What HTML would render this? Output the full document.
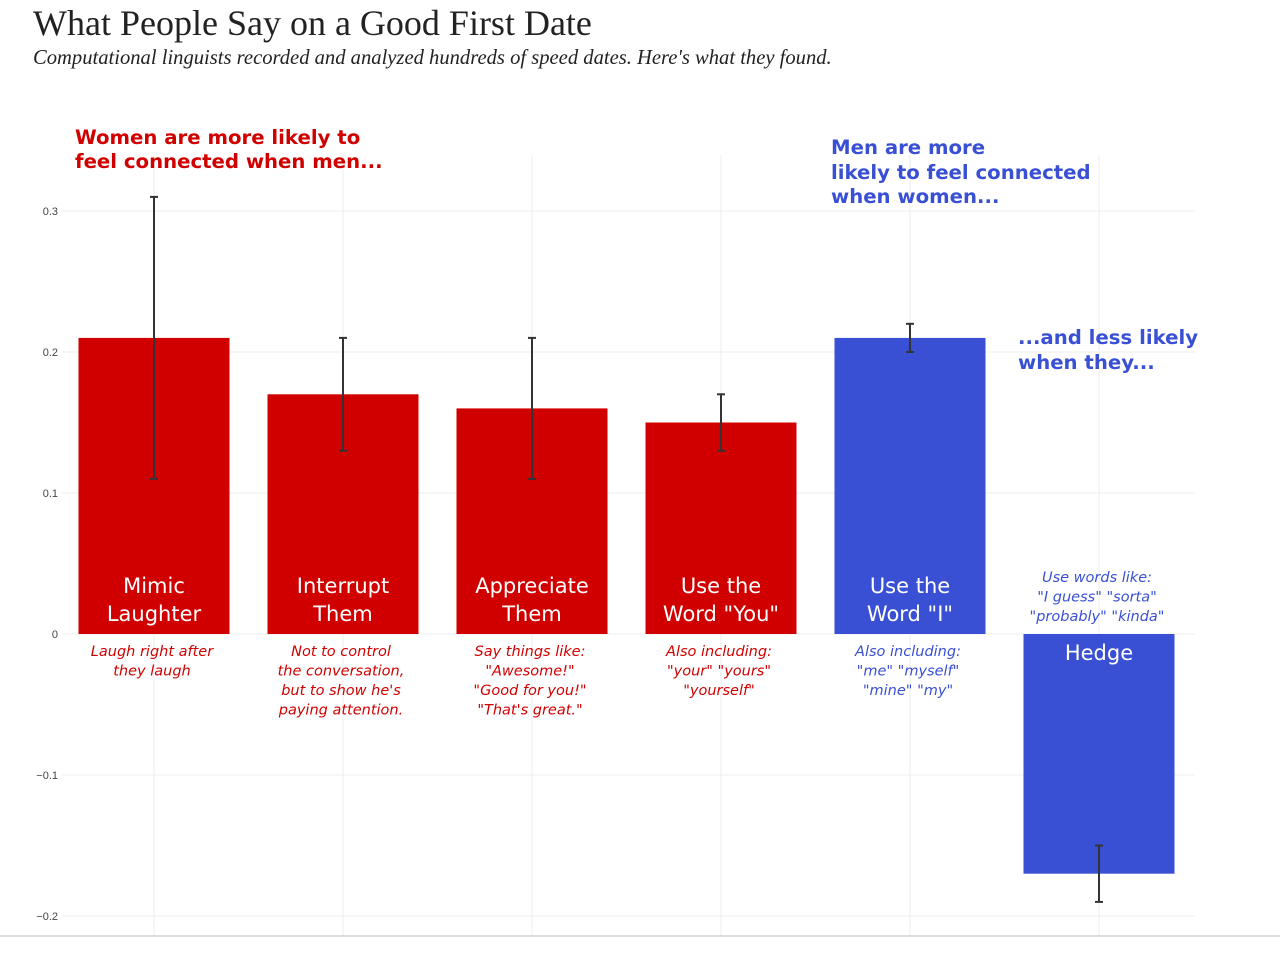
<!DOCTYPE html>
<html><head><meta charset="utf-8"><style>
body{margin:0;background:#fff;width:1280px;height:954px;overflow:hidden;font-family:"Liberation Sans",sans-serif}
.t{position:absolute;white-space:nowrap}
.an{font-family:"DejaVu Sans",sans-serif;font-weight:bold;font-size:19.7px}
</style></head><body>
<div class="t" style="left:33px;top:2px;font-family:'Liberation Serif',serif;font-size:36px;color:#222">What People Say on a Good First Date</div>
<div class="t" style="left:33px;top:47px;font-family:'Liberation Serif',serif;font-style:italic;font-size:20.6px;color:#222">Computational linguists recorded and analyzed hundreds of speed dates. Here's what they found.</div>
<svg id="c" width="1280" height="954" style="position:absolute;left:0;top:0"></svg>
<script>
const categories=["Mimic Laughter","Interrupt Them","Appreciate Them","Use the Word \"You\"","Use the Word \"I\"","Hedge"];
const values=[0.21,0.17,0.16,0.15,0.21,-0.17];
const errLow=[0.11,0.13,0.11,0.13,0.20,-0.19];
const errHigh=[0.31,0.21,0.21,0.17,0.22,-0.15];
const colors=["#d10000","#d10000","#d10000","#d10000","#3a50d4","#3a50d4"];
const yTicks=[0.3,0.2,0.1,0,-0.1,-0.2];
const yTickLabels=["0.3","0.2","0.1","0","\u22120.1","\u22120.2"];
const barLabels=[["Mimic","Laughter"],["Interrupt","Them"],["Appreciate","Them"],["Use the","Word \"You\""],["Use the","Word \"I\""],["Hedge"]];
const notes=[["Laugh right after","they laugh"],["Not to control","the conversation,","but to show he's","paying attention."],["Say things like:","\"Awesome!\"","\"Good for you!\"","\"That's great.\""],["Also including:","\"your\" \"yours\"","\"yourself\""],["Also including:","\"me\" \"myself\"","\"mine\" \"my\""],["Use words like:","\"I guess\" \"sorta\"","\"probably\" \"kinda\""]];
const NS="http://www.w3.org/2000/svg";
const svg=document.getElementById('c');
const y=v=>634-v*1410;
const x=i=>154+i*189;
const bw=151;
function el(t,a,p){const e=document.createElementNS(NS,t);for(const k in a)e.setAttribute(k,a[k]);(p||svg).appendChild(e);return e;}
yTicks.forEach((t,i)=>{
 const g=el('line',{x1:62,x2:1195,y1:y(t),y2:y(t),stroke:'#ececec','stroke-width':1});
 
 
 const l=el('text',{x:58,y:y(t)+4,'text-anchor':'end','font-size':11,fill:'#444'});
 l.textContent=yTickLabels[i];
 
 
});
categories.forEach((c,i)=>{
 const g=el('line',{x1:x(i),x2:x(i),y1:155,y2:936,stroke:'#ececec','stroke-width':1});
 
 
});
el('line',{x1:0,x2:1280,y1:936,y2:936,stroke:'#bbb','stroke-width':1});
categories.forEach((c,i)=>{
 const v=values[i];
 const r=el('rect',{x:x(i)-bw/2,y:Math.min(y(v),y(0)),width:bw,height:Math.abs(y(v)-y(0)),fill:colors[i]});
 
 
 const lines=barLabels[i];
 lines.forEach((s,j)=>{
  const ty=v>0? y(0)-41+j*28+(lines.length==1?28:0) : y(0)+26+j*28;
  const t=el('text',{x:x(i),y:ty,'text-anchor':'middle','font-size':21,'font-family':'DejaVu Sans, sans-serif',fill:'#fff'});
  t.textContent=s;
  
  
 });
 notes[i].forEach((s,j)=>{
  const ty=v>0? y(0)+22+j*19.5 : y(0)-52+j*19.5;
  const t=el('text',{x:x(i)-2,y:ty,'text-anchor':'middle','font-size':14.5,'font-family':'DejaVu Sans, sans-serif','font-style':'italic',fill:colors[i]});
  t.textContent=s;
  
  
 });
 const e=el('g',{stroke:'#333','stroke-width':2});
 
 
 el('line',{x1:x(i),x2:x(i),y1:y(errLow[i]),y2:y(errHigh[i])},e);
 el('line',{x1:x(i)-4,x2:x(i)+4,y1:y(errLow[i]),y2:y(errLow[i])},e);
 el('line',{x1:x(i)-4,x2:x(i)+4,y1:y(errHigh[i]),y2:y(errHigh[i])},e);
});
</script>
<div class="t an" style="left:75px;top:126px;color:#d10000;line-height:24px">Women are more likely to<br>feel connected when men...</div>
<div class="t an" style="left:831px;top:136px;color:#3a50d4;line-height:24.5px">Men are more<br>likely to feel connected<br>when women...</div>
<div class="t an" style="left:1018px;top:326px;color:#3a50d4;line-height:24.5px">...and less likely<br>when they...</div>
</body></html>
